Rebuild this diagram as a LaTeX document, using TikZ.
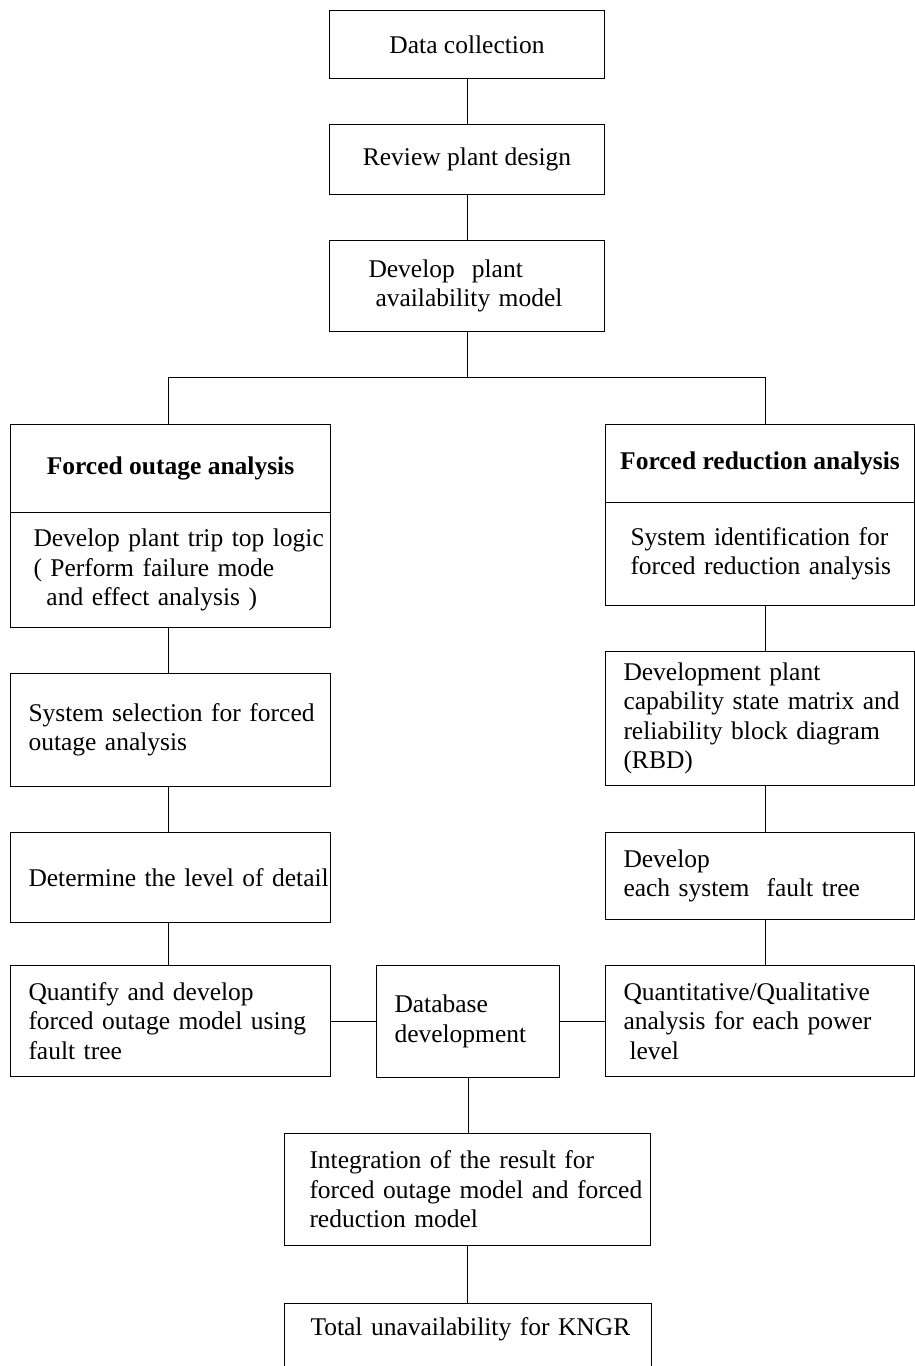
\documentclass[tikz,border=0pt]{standalone}
\usepackage{fontspec}
\setmainfont{Liberation Serif}
\newcommand\boxfont{\fontsize{25.5pt}{29.5pt}\selectfont}
\begin{document}
\begin{tikzpicture}[x=1pt,y=-1pt,
  box/.style={draw, line width=1pt, anchor=north west, inner ysep=0pt, font=\boxfont},
  cbox/.style={box, align=center, inner xsep=0pt},
  hbox/.style={box, align=center, inner xsep=0pt, font=\boxfont\bfseries},
  lbox/.style={box, align=left},
  link/.style={line width=1pt}]
\useasboundingbox (0,0) rectangle (915,1366);

% helper coordinates for connector columns
\coordinate (lx) at (168,0);
\coordinate (rx) at (765,0);
\coordinate (br) at (468,377);

% top chain
\node[cbox, minimum width=275pt, minimum height=68pt] (dc) at (329,10) {Data collection};
\node[cbox, minimum width=275pt, minimum height=70pt] (rv) at (329,124) {Review plant design};
\node[lbox, minimum width=275pt, minimum height=91pt, inner xsep=39pt, text width=197pt] (dp) at (329,240)
  {\mbox{Develop\ \ plant}\\\mbox{\hspace*{7pt}availability model}};

% left column
\node[hbox, minimum width=320pt, minimum height=88pt] (foh) at (10,424) {Forced outage analysis};
\node[lbox, minimum width=320pt, minimum height=115pt, inner xsep=23pt, text width=274pt] (fob) at (10,512)
  {\mbox{Develop plant trip top logic}\\\mbox{( Perform failure mode}\\\mbox{\hspace*{13pt}and effect analysis )}};
\node[lbox, minimum width=320pt, minimum height=113pt, inner xsep=18pt, text width=284pt] (ss) at (10,673)
  {\mbox{System selection for forced}\\\mbox{outage analysis}};
\node[lbox, minimum width=320pt, minimum height=90pt, inner xsep=18pt, text width=284pt] (dl) at (10,832)
  {\mbox{Determine the level of detail}};
\node[lbox, minimum width=320pt, minimum height=111pt, inner xsep=18pt, text width=284pt] (qf) at (10,965)
  {\mbox{Quantify and develop}\\\mbox{forced outage model using}\\\mbox{fault tree}};

% right column
\node[hbox, minimum width=309pt, minimum height=78pt] (frh) at (605,424) {Forced reduction analysis};
\node[lbox, minimum width=309pt, minimum height=103pt, inner xsep=25pt, text width=259pt] (frb) at (605,502)
  {\mbox{System identification for}\\\mbox{forced reduction analysis}};
\node[lbox, minimum width=309pt, minimum height=134pt, inner xsep=18pt, text width=273pt] (cap) at (605,651)
  {\mbox{Development plant}\\\mbox{capability state matrix and}\\\mbox{reliability block diagram}\\\mbox{(RBD)}};
\node[lbox, minimum width=309pt, minimum height=87pt, inner xsep=18pt, text width=273pt] (ft) at (605,832)
  {\mbox{Develop}\\\mbox{each system\ \ fault tree}};
\node[lbox, minimum width=309pt, minimum height=111pt, inner xsep=18pt, text width=273pt] (ql) at (605,965)
  {\mbox{Quantitative/Qualitative}\\\mbox{analysis for each power}\\\mbox{\hspace*{6pt}level}};

% middle
\node[lbox, minimum width=183pt, minimum height=112pt, inner xsep=18pt, text width=147pt] (db) at (376,965)
  {\mbox{Database}\\\mbox{development}};
\node[lbox, minimum width=366pt, minimum height=112pt, inner xsep=25pt, text width=316pt] (ig) at (284,1133)
  {\mbox{Integration of the result for}\\\mbox{forced outage model and forced}\\\mbox{reduction model}};
\node[lbox, draw=none, minimum width=366pt, minimum height=70pt, inner xsep=26pt, text width=314pt, text depth=23pt] (tu) at (284,1303)
  {\mbox{Total unavailability for KNGR}};
\draw[link] (tu.south west) |- (tu.north east) -- (tu.south east);

% connectors
\draw[link] (dc.south) -- (rv.north);
\draw[link] (rv.south) -- (dp.north);
\draw[link] (dp.south) -- (dp.south |- br);
\draw[link] (foh.north -| lx) -- (lx |- br) -- (rx |- br) -- (frh.north -| rx);
\draw[link] (fob.south -| lx) -- (ss.north -| lx);
\draw[link] (ss.south -| lx) -- (dl.north -| lx);
\draw[link] (dl.south -| lx) -- (qf.north -| lx);
\draw[link] (frb.south -| rx) -- (cap.north -| rx);
\draw[link] (cap.south -| rx) -- (ft.north -| rx);
\draw[link] (ft.south -| rx) -- (ql.north -| rx);
\draw[link] (qf.east) -- (qf.east -| db.west);
\draw[link] (db.east) -- (db.east -| ql.west);
\draw[link] (db.south) -- (db.south |- ig.north);
\draw[link] (ig.south) -- (ig.south |- tu.north);
\end{tikzpicture}
\end{document}
